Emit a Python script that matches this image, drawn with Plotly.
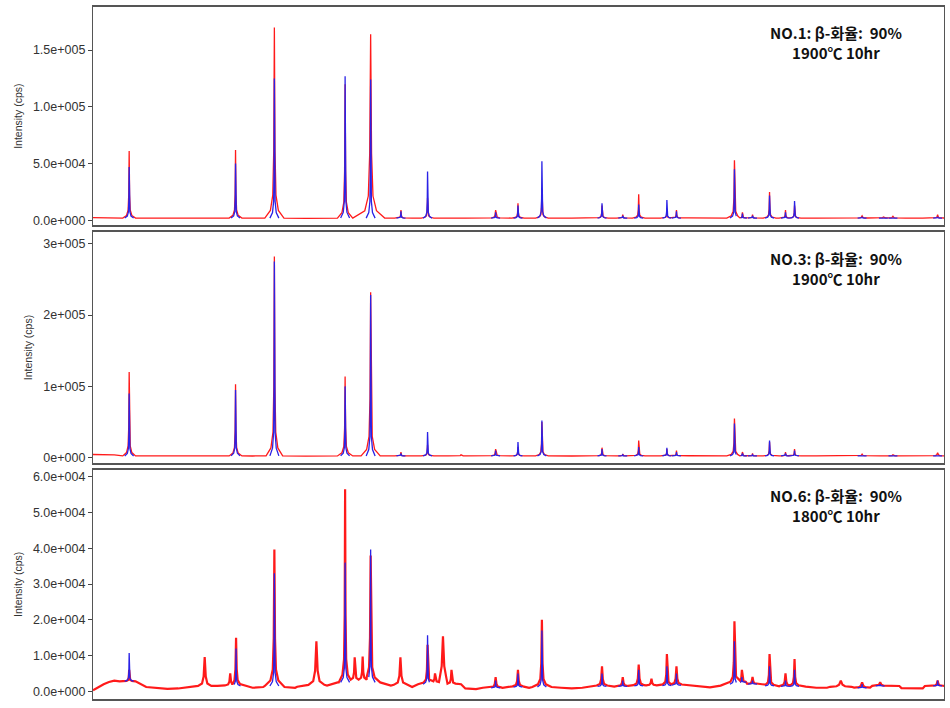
import plotly.graph_objects as go

# ---------------- data ----------------
# x axis: 2-theta (deg), 10..90
P1_POS = [13.4, 23.4, 27.05, 33.7, 36.1, 38.95, 41.45, 47.85, 49.95, 52.2, 57.85, 59.8, 61.3,
          63.95, 64.85, 70.3, 71.05, 72.0, 73.6, 75.1, 75.95, 80.0, 82.3, 84.3, 85.2, 89.4]
P1_RED = [61000, 62000, 170000, 120000, 164000, 9000, 20000, 9000, 15000, 27000, 13000, 5000, 23000,
          8000, 9000, 53000, 7000, 5000, 25000, 9000, 13000, 2500, 4000, 3000, 3500, 5000]
P1_BLUE = [47000, 50000, 125000, 127000, 124000, 8000, 43000, 7000, 13000, 52000, 15000, 4000, 14000,
           18000, 8000, 45000, 6000, 4000, 22000, 7000, 17000, 0, 3000, 2000, 2000, 3000]
P1_WIDTH = [1, 1, 1.5, 1.2, 2.2, 1, 1, 1.5, 1, 1, 1, 1, 1, 1, 1, 1.2, 1, 1, 1, 1, 1, 2, 2, 2, 2, 1.5]
P1_FOOT = [2000] * len(P1_POS)
P1_BASE_X = [10, 15, 20, 25, 30, 40, 45, 50, 55, 60, 66, 70, 78, 80, 82, 86, 88, 90]
P1_BASE_Y = [2500, 2000, 1800, 1900, 1800, 1900, 2000, 2100, 1900, 2000, 2200, 2100, 2000, 2300, 2400, 2100, 2000, 2600]

P2_POS = [13.4, 23.4, 27.05, 33.7, 36.1, 38.95, 41.45, 44.6, 47.85, 49.95, 52.2, 57.85, 59.8, 61.3,
          63.95, 64.85, 70.3, 71.05, 72.0, 73.6, 75.1, 75.95, 80.0, 82.3, 85.2, 89.4]
P2_RED = [120000, 103000, 282000, 114000, 232000, 8000, 18000, 4000, 12000, 15000, 50000, 14000, 5000, 24000,
          12000, 10000, 55000, 8000, 6000, 22000, 8000, 12000, 3000, 5000, 4000, 7000]
P2_BLUE = [90000, 95000, 275000, 100000, 228000, 6000, 36000, 0, 10000, 22000, 52000, 12000, 4000, 15000,
           14000, 8000, 48000, 6000, 4000, 24000, 6000, 10000, 0, 3000, 2000, 3000]
P2_WIDTH = [1, 1, 1.3, 1.2, 1.5, 1, 1, 2, 1.5, 1, 1, 1, 1, 1, 1, 1, 1.2, 1, 1, 1, 1, 1, 2, 2, 2, 2]
P2_FOOT = [2500] * len(P2_POS)
P2_BASE_X = [10, 12, 15, 20, 25, 30, 40, 45, 50, 55, 60, 66, 70, 78, 80, 82, 86, 88, 90]
P2_BASE_Y = [4500, 4000, 2500, 2300, 2400, 2300, 2400, 2500, 2600, 2400, 2500, 2700, 2600, 2500, 2800, 3200, 2700, 2600, 4000]

P3_POS = [13.4, 20.5, 22.9, 23.45, 27.05, 31.0, 33.7, 34.6, 35.35, 36.1, 38.9, 41.45, 42.15, 42.9, 43.7,
          47.85, 49.95, 52.2, 57.85, 59.8, 61.3, 62.5, 63.95, 64.85, 70.3, 71.0, 72.0, 73.6, 75.1, 75.95,
          80.3, 82.3, 84.0, 89.4]
P3_RED = [6000, 9600, 5000, 15000, 39700, 14000, 56500, 9500, 9700, 38000, 9500, 13000, 5000, 15400, 6000,
          4000, 6000, 20000, 7000, 4000, 7500, 3500, 10400, 7000, 19600, 6000, 4000, 10400, 5000, 9000,
          3000, 2500, 2500, 3000]
P3_BLUE = [10700, 0, 0, 12000, 33000, 0, 36000, 0, 0, 39700, 0, 15700, 0, 0, 0,
           3000, 5000, 17000, 5000, 3000, 6000, 0, 7000, 5000, 14000, 4000, 3000, 7000, 3000, 6000,
           0, 2000, 2000, 3000]
P3_FOOT = [2800, 1200, 1500, 1500, 1500, 1300, 2500, 3000, 3000, 2500, 1500, 2000, 2500, 2500, 2000,
           1000, 1200, 1200, 1400, 1400, 1500, 1600, 1600, 1700, 2000, 2500, 2000, 1500, 1400, 1400,
           1200, 1000, 1500, 1500]
P3_WIDTH = [1, 2.5, 2, 1.5, 1.5, 3, 1, 1.5, 1.5, 1.5, 2.5, 1.5, 1.5, 3, 1.5,
            2, 2, 1.5, 2, 2, 2, 2, 1.5, 2, 1.5, 1.5, 2, 1.5, 2, 1.5, 4, 3, 3, 2]
P3_BASE_X = [10, 10.5, 11, 11.5, 12, 12.5, 13, 14, 15, 16, 17, 18, 19, 20, 21, 22, 24, 25, 26, 28, 29, 30,
             32, 33, 37, 38, 40, 44.5, 45, 46, 47, 48.5, 50.5, 51, 53, 54, 55, 56, 57, 59, 60, 62, 63,
             65.5, 66, 67, 68, 69, 69.5, 72.5, 74.5, 77, 78, 79, 80, 81, 82, 83, 84, 85, 86, 87, 88, 89, 90]
P3_BASE_Y = [300, 1200, 2000, 2600, 3000, 2800, 3200, 1800, 1200, 900, 700, 800, 900, 1100, 1300, 1400,
             1300, 1000, 1200, 1200, 1000, 1300, 1600, 2500, 2200, 1600, 1200, 1800, 800, 600, 700, 1000,
             1300, 1000, 1200, 1000, 800, 1000, 1400, 1300, 1500, 1600, 1600, 1800, 1400, 1200, 1100,
             1600, 2500, 1500, 1400, 1300, 1000, 1000, 1300, 900, 1000, 1300, 1500, 1000, 900, 800, 800,
             1500, 500]

Y_TICKS = [
    ([0, 50000, 100000, 150000], ["0.0e+000", "5.0e+004", "1.0e+005", "1.5e+005"]),
    ([0, 100000, 200000, 300000], ["0e+000", "1e+005", "2e+005", "3e+005"]),
    ([0, 10000, 20000, 30000, 40000, 50000, 60000],
     ["0.0e+000", "1.0e+004", "2.0e+004", "3.0e+004", "4.0e+004", "5.0e+004", "6.0e+004"]),
]
Y_RANGES = [[-4400, 188000], [-7000, 316000], [-2150, 62000]]
LABELS = [("NO.1: β-화율:  90%", "1900℃ 10hr"),
          ("NO.3: β-화율:  90%", "1900℃ 10hr"),
          ("NO.6: β-화율:  90%", "1800℃ 10hr")]

# peak outline (style): offsets in deg (times width factor) and fraction of height above foot
OFFS = [0.6, 0.25, 0.1, 0.04, 0.0]
FRAC = [0.0, 0.04, 0.12, 0.35, 1.0]


def peak_vertices(pos, heights, feet, widths, scale, keep):
    """Return list of vertex lists for each peak (clipped to midpoints between neighbours)."""
    out = []
    n = len(pos)
    for i in range(n):
        if not keep[i]:
            out.append(None)
            continue
        lo = (pos[i - 1] + pos[i]) / 2 if i > 0 else -1e9
        hi = (pos[i] + pos[i + 1]) / 2 if i < n - 1 else 1e9
        d = heights[i] - feet[i]
        w = widths[i] * scale
        pts = []
        for o, f in zip(OFFS, FRAC):
            pts.append((pos[i] - o * w, feet[i] + f * d))
        for o, f in list(zip(OFFS, FRAC))[-2::-1]:
            pts.append((pos[i] + o * w, feet[i] + f * d))
        pts = [p for p in pts if lo <= p[0] <= hi]
        out.append(pts)
    return out


def red_profile(pos, heights, feet, widths, bx, by):
    verts = peak_vertices(pos, heights, feet, widths, 1.0, [True] * len(pos))
    spans = [(v[0][0], v[-1][0]) for v in verts]
    pts = [(x, y) for x, y in zip(bx, by) if not any(a <= x <= b for a, b in spans)]
    for v in verts:
        pts.extend(v)
    pts.sort(key=lambda p: p[0])
    return [p[0] for p in pts], [p[1] for p in pts]


def blue_sticks(pos, heights, feet, widths):
    keep = [h > 0 for h in heights]
    verts = peak_vertices(pos, heights, feet, [1.0] * len(pos), 0.7, keep)
    xs, ys = [], []
    for v in verts:
        if v:
            xs.extend([p[0] for p in v] + [None])
            ys.extend([p[1] for p in v] + [None])
    return xs, ys


PANELS = [
    (P1_POS, P1_RED, P1_BLUE, P1_FOOT, P1_WIDTH, P1_BASE_X, P1_BASE_Y, 1.3),
    (P2_POS, P2_RED, P2_BLUE, P2_FOOT, P2_WIDTH, P2_BASE_X, P2_BASE_Y, 1.3),
    (P3_POS, P3_RED, P3_BLUE, P3_FOOT, P3_WIDTH, P3_BASE_X, P3_BASE_Y, 2.2),
]

H = 708.0
DOMAINS = [(7, 226), (233, 464), (471, 701)]  # pixel top/bottom of each panel

fig = go.Figure()
for k, (pos, red, blue, foot, wid, bx, by, lw) in enumerate(PANELS):
    ax = "" if k == 0 else str(k + 1)
    rx, ry = red_profile(pos, red, foot, wid, bx, by)
    fig.add_trace(go.Scatter(x=rx, y=ry, mode="lines", line=dict(color="#ff1a1a", width=lw),
                             xaxis="x" + ax, yaxis="y" + ax, showlegend=False, hoverinfo="skip"))
    sx, sy = blue_sticks(pos, blue, foot, wid)
    fig.add_trace(go.Scatter(x=sx, y=sy, mode="lines", line=dict(color="#2a22e6", width=1.3),
                             xaxis="x" + ax, yaxis="y" + ax, showlegend=False, hoverinfo="skip",
                             connectgaps=False))
    top, bot = DOMAINS[k]
    dom = [1 - bot / H, 1 - top / H]
    tv, tt = Y_TICKS[k]
    fig.layout["xaxis" + ax] = dict(domain=[0, 1], range=[10, 90], anchor="y" + ax,
                                    showticklabels=False, ticks="", showgrid=False, zeroline=False,
                                    showline=True, mirror=True, linecolor="#555555", linewidth=1.5)
    fig.layout["yaxis" + ax] = dict(domain=dom, range=Y_RANGES[k], anchor="x" + ax,
                                    tickvals=tv, ticktext=tt, ticks="outside", ticklen=4,
                                    tickcolor="#444444", showgrid=False, zeroline=False,
                                    showline=True, mirror=True, linecolor="#555555", linewidth=1.2,
                                    tickfont=dict(family="Liberation Sans, Arial", size=12.5, color="#333333"),
                                    title=dict(text="Intensity (cps)", standoff=8,
                                               font=dict(family="Liberation Sans, Arial", size=10.5, color="#333333")))
    l1, l2 = LABELS[k]
    fig.add_annotation(text="<b>" + l1 + "</b><br><b>" + l2 + "</b>", xref="paper", yref="paper",
                       x=(836 - 93) / 851, y=1 - (top + 36) / H, xanchor="center", yanchor="middle",
                       align="center", showarrow=False,
                       font=dict(family="Noto Sans CJK KR", size=15, color="#111111"))

fig.update_layout(width=950, height=708, margin=dict(l=93, r=6, t=0, b=0),
                  paper_bgcolor="white", plot_bgcolor="white")
fig.write_html("out.html")
